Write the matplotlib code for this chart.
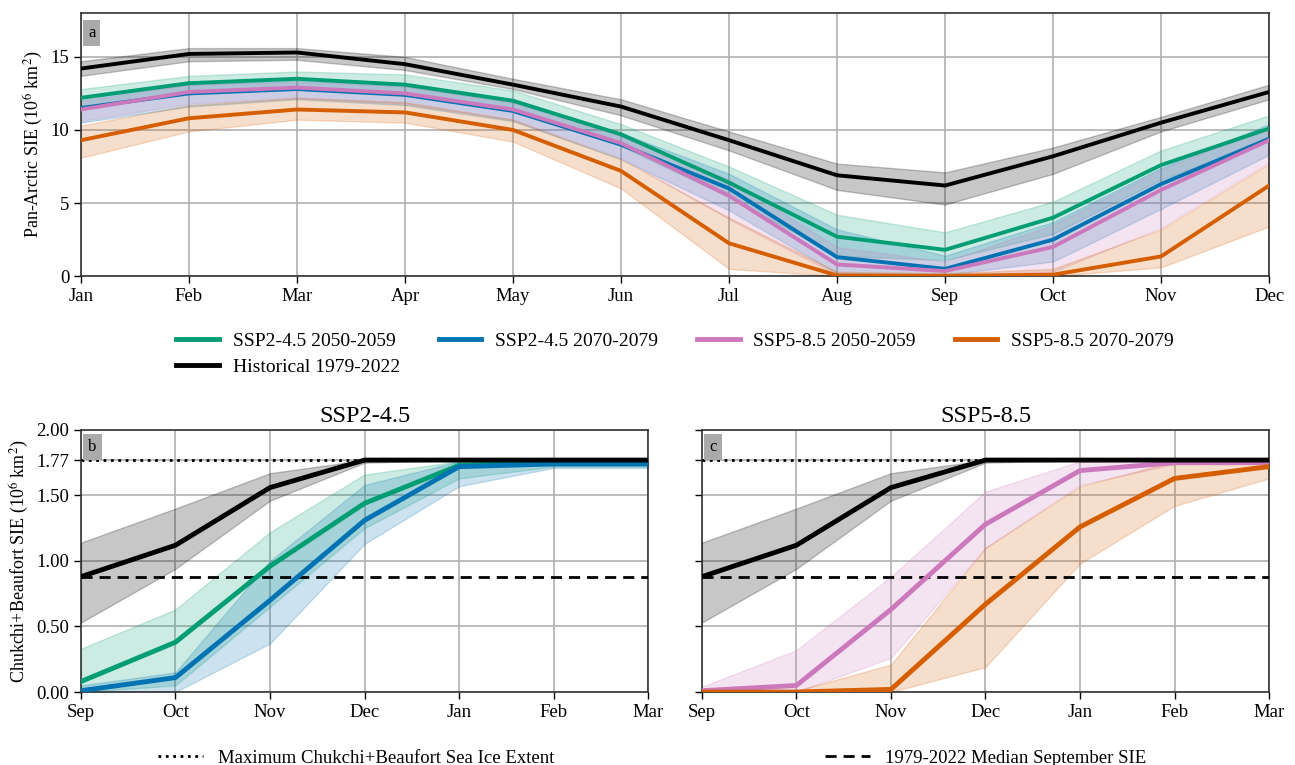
import matplotlib
matplotlib.use("Agg")
import matplotlib.pyplot as plt
from matplotlib.lines import Line2D

plt.rcParams['font.family'] = ['Liberation Serif', 'DejaVu Serif']
plt.rcParams['mathtext.fontset'] = 'stix'

# ---------------- data ----------------
months = ['Jan', 'Feb', 'Mar', 'Apr', 'May', 'Jun', 'Jul', 'Aug', 'Sep', 'Oct', 'Nov', 'Dec']

hist_mean = [14.2, 15.2, 15.3, 14.5, 13.1, 11.6, 9.3, 6.9, 6.2, 8.2, 10.5, 12.6]
hist_lo = [13.7, 14.7, 14.8, 14.1, 12.8, 11.0, 8.6, 5.9, 4.9, 7.0, 9.9, 12.1]
hist_hi = [14.7, 15.6, 15.6, 15.0, 13.5, 12.1, 9.9, 7.7, 7.1, 8.8, 10.9, 13.1]

s245_50_mean = [12.2, 13.2, 13.5, 13.1, 12.0, 9.7, 6.4, 2.7, 1.8, 4.0, 7.6, 10.1]
s245_50_lo = [11.5, 12.6, 13.0, 12.5, 11.3, 8.9, 5.4, 1.4, 1.1, 2.9, 6.6, 9.3]
s245_50_hi = [12.8, 13.7, 14.0, 13.8, 12.7, 10.4, 7.5, 4.2, 3.0, 5.1, 8.6, 11.0]

s245_70_mean = [11.5, 12.5, 12.8, 12.4, 11.3, 9.0, 6.0, 1.3, 0.5, 2.5, 6.3, 9.4]
s245_70_lo = [10.5, 11.6, 12.1, 11.7, 10.6, 8.0, 4.5, 0.2, 0.1, 1.0, 4.6, 8.3]
s245_70_hi = [12.2, 13.1, 13.4, 13.0, 11.9, 9.8, 7.0, 3.2, 1.4, 3.7, 7.4, 10.4]

s585_50_mean = [11.4, 12.6, 12.9, 12.5, 11.4, 9.1, 5.5, 0.8, 0.35, 2.0, 5.9, 9.3]
s585_50_lo = [10.6, 11.8, 12.2, 11.8, 10.7, 8.1, 3.9, 0.1, 0.05, 0.3, 3.3, 7.8]
s585_50_hi = [12.0, 13.1, 13.3, 13.0, 11.9, 9.6, 6.6, 2.0, 1.0, 3.5, 7.3, 10.2]

s585_70_mean = [9.3, 10.8, 11.4, 11.2, 10.0, 7.2, 2.25, 0.05, 0.02, 0.1, 1.35, 6.2]
s585_70_lo = [8.1, 9.9, 10.7, 10.5, 9.2, 6.0, 0.5, 0.0, 0.0, 0.0, 0.6, 3.4]
s585_70_hi = [10.3, 11.7, 12.2, 11.9, 10.7, 8.0, 4.0, 0.3, 0.2, 0.5, 3.2, 7.7]

# Chukchi + Beaufort (Sep - Mar)
cb_months = ['Sep', 'Oct', 'Nov', 'Dec', 'Jan', 'Feb', 'Mar']
cb_hist_mean = [0.88, 1.12, 1.56, 1.77, 1.77, 1.77, 1.77]
cb_hist_lo = [0.53, 0.94, 1.46, 1.75, 1.77, 1.77, 1.77]
cb_hist_hi = [1.14, 1.40, 1.67, 1.77, 1.77, 1.77, 1.77]

cb_245_50_mean = [0.08, 0.38, 0.96, 1.44, 1.73, 1.75, 1.75]
cb_245_50_lo = [0.0, 0.05, 0.65, 1.25, 1.63, 1.72, 1.72]
cb_245_50_hi = [0.33, 0.63, 1.22, 1.66, 1.76, 1.76, 1.76]

cb_245_70_mean = [0.01, 0.11, 0.70, 1.31, 1.72, 1.74, 1.74]
cb_245_70_lo = [0.0, 0.0, 0.37, 1.13, 1.57, 1.71, 1.71]
cb_245_70_hi = [0.05, 0.15, 1.00, 1.58, 1.76, 1.76, 1.76]

cb_585_50_mean = [0.01, 0.05, 0.63, 1.28, 1.69, 1.75, 1.75]
cb_585_50_lo = [0.0, 0.0, 0.26, 1.10, 1.58, 1.74, 1.74]
cb_585_50_hi = [0.04, 0.32, 0.88, 1.53, 1.76, 1.77, 1.77]

cb_585_70_mean = [0.0, 0.0, 0.02, 0.67, 1.26, 1.63, 1.72]
cb_585_70_lo = [0.0, 0.0, 0.0, 0.19, 0.98, 1.42, 1.63]
cb_585_70_hi = [0.01, 0.01, 0.21, 1.10, 1.57, 1.76, 1.76]

max_cb = 1.77
median_sep = 0.88

# ---------------- style ----------------
c_green = '#029e73'
c_blue = '#0173b2'
c_pink = '#cc78bc'
c_orange = '#d55e00'
c_black = 'black'

fig = plt.figure(figsize=(12.95, 7.65), dpi=100)
ax_a = fig.add_axes([0.0625, 0.639, 0.9175, 0.344])
ax_b = fig.add_axes([0.0625, 0.0954, 0.438, 0.3426])
ax_c = fig.add_axes([0.542, 0.0954, 0.438, 0.3426])

TICK = 13.5
LEG = 14

def band(ax, x, lo, hi, mean, color, lw, alpha=0.2, label=None, z=2):
    ax.fill_between(x, lo, hi, color=color, alpha=alpha, lw=1, zorder=z)
    ax.plot(x, mean, color=color, lw=lw, label=label, zorder=z + 5)

x12 = list(range(len(months)))
series_a = [
    (s245_50_lo, s245_50_hi, s245_50_mean, c_green, 'SSP2-4.5 2050-2059'),
    (s245_70_lo, s245_70_hi, s245_70_mean, c_blue, 'SSP2-4.5 2070-2079'),
    (s585_50_lo, s585_50_hi, s585_50_mean, c_pink, 'SSP5-8.5 2050-2059'),
    (s585_70_lo, s585_70_hi, s585_70_mean, c_orange, 'SSP5-8.5 2070-2079'),
]
band(ax_a, x12, hist_lo, hist_hi, hist_mean, c_black, 2.8, alpha=0.22, label='Historical 1979-2022', z=3)
for i, (lo, hi, m, c, lab) in enumerate(series_a):
    band(ax_a, x12, lo, hi, m, c, 2.8, label=lab, z=2)

ax_a.set_xlim(0, 11)
ax_a.set_ylim(0, 18)
ax_a.set_xticks(x12)
ax_a.set_xticklabels(months)
ax_a.set_yticks([0, 5, 10, 15])
ax_a.set_ylabel('Pan-Arctic SIE (10$^6$ km$^2$)', fontsize=13)
ax_a.grid(True, color='#b0b0b0', lw=1.2)
ax_a.set_axisbelow(True)

handles, labels = ax_a.get_legend_handles_labels()
# column-major fill: col1 = green + historical, then blue, pink, orange
order = [1, 0, 2, 3, 4]
leg_handles = [Line2D([0], [0], color=handles[i].get_color(), lw=3.5) for i in order]
leg_labels = [labels[i] for i in order]
fig.legend(leg_handles, leg_labels, loc='upper left', bbox_to_anchor=(0.1225, 0.589),
           ncol=4, frameon=False, fontsize=LEG, columnspacing=2.0, handlelength=2.2,
           handletextpad=0.7, labelspacing=0.45)

x7 = list(range(len(cb_months)))
for ax, ser, title, letter in [
    (ax_b, [(cb_245_50_lo, cb_245_50_hi, cb_245_50_mean, c_green),
            (cb_245_70_lo, cb_245_70_hi, cb_245_70_mean, c_blue)], 'SSP2-4.5', 'b'),
    (ax_c, [(cb_585_50_lo, cb_585_50_hi, cb_585_50_mean, c_pink),
            (cb_585_70_lo, cb_585_70_hi, cb_585_70_mean, c_orange)], 'SSP5-8.5', 'c'),
]:
    band(ax, x7, cb_hist_lo, cb_hist_hi, cb_hist_mean, c_black, 3.5, alpha=0.22, z=3)
    for lo, hi, m, c in ser:
        band(ax, x7, lo, hi, m, c, 3.5, z=2)
    ax.axhline(max_cb, color='black', ls=':', lw=2, zorder=6)
    ax.axhline(median_sep, color='black', ls='--', lw=2, dashes=(4, 2.5), zorder=6)
    ax.set_xlim(0, 6)
    ax.set_ylim(0, 2.0)
    ax.set_xticks(x7)
    ax.set_xticklabels(cb_months)
    ax.set_yticks([0, 0.5, 1.0, 1.5, 1.77, 2.0])
    ax.grid(True, color='#b0b0b0', lw=1.2)
    ax.set_axisbelow(True)
    ax.set_title(title, fontsize=17.5, pad=6)
    ax.text(0.013, 0.965, letter, transform=ax.transAxes, ha='left', va='top',
            fontsize=12, bbox=dict(boxstyle='square,pad=0.3', fc='#aaaaaa', ec='none'), zorder=10)

ax_a.text(0.006, 0.955, 'a', transform=ax_a.transAxes, ha='left', va='top',
          fontsize=12, bbox=dict(boxstyle='square,pad=0.3', fc='#aaaaaa', ec='none'), zorder=10)

ax_b.set_yticklabels(['0.00', '0.50', '1.00', '1.50', '1.77', '2.00'])
ax_c.set_yticklabels([])
ax_b.set_ylabel('Chukchi+Beaufort SIE (10$^6$ km$^2$)', fontsize=13)

for ax in [ax_a, ax_b, ax_c]:
    ax.tick_params(labelsize=TICK, length=5, width=1)
    for s in ax.spines.values():
        s.set_linewidth(1.2)
        s.set_color('#333333')

fig.legend([Line2D([0], [0], color='black', ls=':', lw=2)],
           ['Maximum Chukchi+Beaufort Sea Ice Extent'],
           loc='center', bbox_to_anchor=(0.275, 0.009), frameon=False, fontsize=13.5,
           handlelength=2.4, handletextpad=0.8)
fig.legend([Line2D([0], [0], color='black', ls='--', lw=2, dashes=(4, 2.5))],
           ['1979-2022 Median September SIE'],
           loc='center', bbox_to_anchor=(0.761, 0.009), frameon=False, fontsize=13.5,
           handlelength=2.4, handletextpad=0.8)

fig.savefig('out.png', dpi=100)
